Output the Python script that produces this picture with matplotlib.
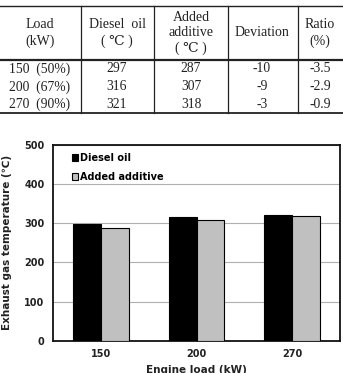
import numpy as np
import matplotlib
matplotlib.use("Agg")
import matplotlib.pyplot as plt
from matplotlib.lines import Line2D

# table data
headers = ["Load\n(kW)", "Diesel  oil\n( \u2103 )", "Added\nadditive\n( \u2103 )", "Deviation", "Ratio\n(%)"]
loads = ["150  (50%)", "200  (67%)", "270  (90%)"]
diesel = [297, 316, 321]
additive = [287, 307, 318]
deviation = [-10, -9, -3]
ratio = [-3.5, -2.9, -0.9]

# chart data
categories = ["150", "200", "270"]
series_names = ["Diesel oil", "Added additive"]

W, H = 343, 373
fig = plt.figure(figsize=(W / 100, H / 100), dpi=100)

def fx(px):
    return px / W

def fy(py):
    return 1 - py / H

serif = ["Liberation Serif", "DejaVu Serif"]

# table lines
col_edges = [81, 154, 228, 298]
for y, lw in [(5.5, 1.0), (59.7, 1.6), (112.5, 1.3)]:
    fig.add_artist(Line2D([0, 1], [fy(y), fy(y)], color="#222222", lw=lw, transform=fig.transFigure))
for x in col_edges:
    fig.add_artist(Line2D([fx(x), fx(x)], [fy(5.5), fy(112.5)], color="#222222", lw=0.9, transform=fig.transFigure))

col_centers = [40, 117, 191, 262, 320]
for cx, h in zip(col_centers, headers):
    fig.text(fx(cx), fy(33), h, ha="center", va="center", fontsize=10,
             family=serif, linespacing=1.25, color="#222222")

row_centers = [69, 87, 104.5]
for i, ry in enumerate(row_centers):
    vals = [loads[i], str(diesel[i]), str(additive[i]), str(deviation[i]), str(ratio[i])]
    for cx, v in zip(col_centers, vals):
        fig.text(fx(cx), fy(ry), v, ha="center", va="center", fontsize=9.8,
                 family=serif, color="#222222")

# bar chart
ax = fig.add_axes([fx(53), fy(341), fx(340) - fx(53), fy(144.7) - fy(341)])
x = np.arange(len(categories))
bw = 0.29
ax.bar(x - bw / 2, diesel, bw, color="black", edgecolor="black", lw=0.8, label=series_names[0], zorder=3)
ax.bar(x + bw / 2, additive, bw, color="#c0c0c0", edgecolor="black", lw=0.8, label=series_names[1], zorder=3)

ax.set_xlim(-0.5, len(categories) - 0.5)
ax.set_ylim(0, 500)
ax.set_yticks(range(0, 501, 100))
ax.set_xticks(x)
ax.set_xticklabels(categories)
ax.yaxis.grid(True, color="#b0b0b0", lw=0.8, zorder=0)
ax.set_axisbelow(True)
ax.tick_params(axis="both", length=0, labelsize=7, pad=6)
for lab in ax.get_xticklabels() + ax.get_yticklabels():
    lab.set_fontweight("bold")
    lab.set_color("#222222")
for s in ax.spines.values():
    s.set_linewidth(1.3)
    s.set_color("#111111")

ax.set_ylabel("Exhaust gas temperature (\u2103)", fontsize=7.5, fontweight="bold",
              color="#222222", labelpad=9)
ax.set_xlabel("Engine load (kW)", fontsize=7.5, fontweight="bold", color="#222222", labelpad=4)

leg = ax.legend(loc="upper left", bbox_to_anchor=(0.065, 0.96), frameon=False,
                handlelength=0.7, handleheight=0.7, handletextpad=0.2, borderaxespad=0,
                borderpad=0, labelspacing=1.0, prop={"weight": "bold", "size": 7})

fig.savefig("out.png", dpi=100)
